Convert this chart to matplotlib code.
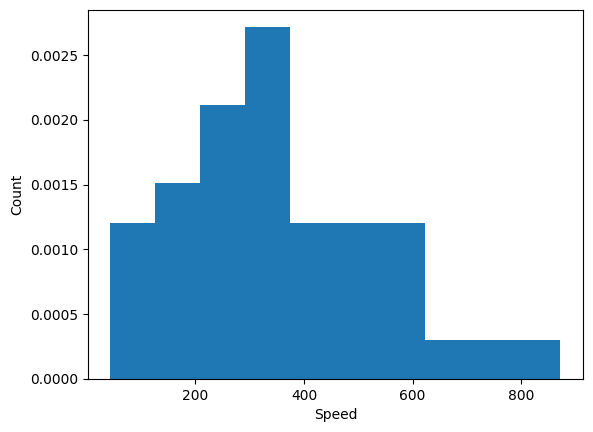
import numpy as np
import matplotlib
matplotlib.use("Agg")
import matplotlib.pyplot as plt

# histogram of speeds, 10 equal bins, density normalised
bin_edges = np.linspace(44, 872, 11)
bin_counts = [4, 5, 7, 9, 4, 4, 4, 1, 1, 1]

fig = plt.figure(figsize=(5.93, 4.32), dpi=100)
ax = fig.add_axes([0.1484, 0.1227, 0.983 - 0.1484, 0.978 - 0.1227])
ax.hist(bin_edges[:-1], bins=bin_edges, weights=bin_counts, density=True)
ax.set_xlabel("Speed")
ax.set_ylabel("Count")
fig.savefig("out.png")
